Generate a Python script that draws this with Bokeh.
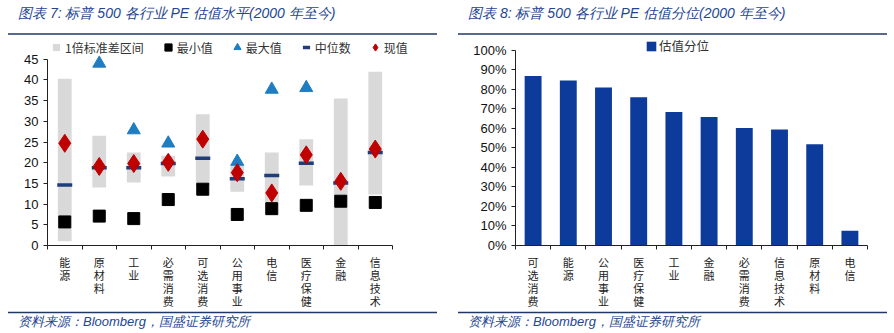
import math
from bokeh.plotting import figure
from bokeh.models import (Range1d, LinearAxis, FixedTicker,
                          Legend, LegendItem, Div, NumeralTickFormatter)
from bokeh.layouts import column, row
from bokeh.embed import file_html
from bokeh.resources import INLINE

nan = float("nan")

# ---------------- data ----------------
sectors = ["能源", "原材料", "工业", "必需消费", "可选消费", "公用事业", "电信", "医疗保健", "金融", "信息技术"]
band_low = [1.0, 14.0, 15.2, 16.7, 14.5, 13.0, 10.5, 14.5, 0.0, 12.3]
band_high = [40.3, 26.5, 22.5, 21.7, 31.7, 19.5, 22.5, 25.7, 35.5, 42.0]
pe_min = [5.7, 7.1, 6.5, 11.1, 13.6, 7.5, 8.9, 9.7, 10.7, 10.4]
pe_max = [nan, 44.0, 27.9, 24.7, nan, 20.3, 37.7, 38.1, nan, nan]
pe_median = [14.6, 18.8, 18.8, 19.8, 21.1, 16.1, 16.9, 19.9, 15.1, 22.5]
pe_now = [24.7, 19.1, 19.8, 20.1, 25.7, 17.6, 12.7, 21.9, 15.5, 23.3]
left_ticks = [0, 5, 10, 15, 20, 25, 30, 35, 40, 45]

rank_sectors = ["可选消费", "能源", "公用事业", "医疗保健", "工业", "金融", "必需消费", "信息技术", "原材料", "电信"]
rank_pct = [0.869, 0.845, 0.810, 0.760, 0.684, 0.658, 0.602, 0.595, 0.519, 0.075]
right_ticks = [0, 0.1, 0.2, 0.3, 0.4, 0.5, 0.6, 0.7, 0.8, 0.9, 1.0]

title_left = "图表 7: 标普 500 各行业 PE 估值水平(2000 年至今)"
title_right = "图表 8: 标普 500 各行业 PE 估值分位(2000 年至今)"
source_text = "资料来源：Bloomberg，国盛证券研究所"

# ---------------- styles ----------------
CJK = "Noto Sans CJK SC"
NUM = "Liberation Sans"
NAVY_LINE = "#1F3864"
TITLE_COL = "#24468F"
W = 447
TOP_H = 36
FIG_H = 275
FOOT_H = 22


def title_div(text, left):
    svg = (f'<svg xmlns="http://www.w3.org/2000/svg" width="{W}" height="{TOP_H}" style="display:block">'
           f'<line x1="{left}" y1="34" x2="{left + 429}" y2="34" stroke="{NAVY_LINE}" stroke-width="1.5"/>'
           f'<text x="{left + 10}" y="18" font-family="{CJK}" font-style="italic" font-size="14" '
           f'fill="{TITLE_COL}">{text}</text></svg>')
    return Div(text=svg, width=W, height=TOP_H, margin=0)


def foot_div(text, left):
    svg = (f'<svg xmlns="http://www.w3.org/2000/svg" width="{W}" height="{FOOT_H}" style="display:block">'
           f'<line x1="{left}" y1="1.5" x2="{left + 429}" y2="1.5" stroke="{NAVY_LINE}" stroke-width="1.5"/>'
           f'<text x="{left + 10}" y="15" font-family="{CJK}" font-style="italic" font-size="13" '
           f'fill="{TITLE_COL}">{text}</text></svg>')
    return Div(text=svg, width=W, height=FOOT_H, margin=0)


def positions(cats):
    return [i + 0.5 for i in range(len(cats))]


def style_common(p, cats):
    p.xgrid.visible = False
    p.ygrid.visible = False
    p.outline_line_color = None
    p.background_fill_color = "white"
    p.border_fill_color = "white"
    n = len(cats)
    pos = positions(cats)
    # one axis: labels at category centres, tick marks (minor) between categories
    ax = LinearAxis(ticker=FixedTicker(ticks=pos, minor_ticks=list(range(n + 1))), bounds=(0, n))
    ax.axis_line_color = "#222222"
    ax.major_tick_line_color = None
    ax.major_tick_out = 0
    ax.major_tick_in = 0
    ax.minor_tick_line_color = "#222222"
    ax.minor_tick_out = 4
    ax.minor_tick_in = 0
    ax.major_label_overrides = {x: "\n".join(c) for x, c in zip(pos, cats)}
    ax.major_label_text_font = CJK
    ax.major_label_text_font_size = "11px"
    ax.major_label_text_line_height = 0.82
    ax.major_label_text_color = "#222222"
    ax.major_label_standoff = 4
    p.add_layout(ax, "below")


def y_axis(p, ticks, bounds, fmt=None):
    ax = LinearAxis(ticker=FixedTicker(ticks=ticks), bounds=bounds)
    if fmt is not None:
        ax.formatter = fmt
    ax.major_label_text_font = NUM
    ax.major_label_text_font_size = "13px"
    ax.major_label_text_color = "#111111"
    ax.major_tick_out = 4
    ax.major_tick_in = 0
    ax.minor_tick_line_color = None
    ax.axis_line_color = "#222222"
    ax.major_tick_line_color = "#222222"
    ax.major_label_standoff = 5
    p.add_layout(ax, "left")


# ---------------- left figure ----------------
xs1 = positions(sectors)
p1 = figure(width=W, height=FIG_H, x_range=Range1d(0, len(sectors) * 390 / 345),
            y_range=Range1d(0, 50.5), output_backend="svg", toolbar_location=None,
            x_axis_location=None, y_axis_location=None,
            min_border_left=47, min_border_right=10, min_border_top=0, min_border_bottom=64,
            margin=0)
style_common(p1, sectors)
y_axis(p1, left_ticks, (0, 45))

r_band = p1.vbar(x=xs1, bottom=band_low, top=band_high, width=0.4,
                 fill_color="#D9D9D9", line_color=None)
r_min = p1.scatter(x=xs1, y=pe_min, marker="square", size=12,
                   fill_color="black", line_color="black")
r_max = p1.scatter(x=xs1, y=pe_max, marker="triangle", size=13,
                   fill_color="#1F7DC1", line_color="#1F7DC1")
r_med = p1.scatter(x=xs1, y=pe_median, marker="dash", size=15, line_width=3.5,
                   line_color="#1F3D7A")
r_now = p1.scatter(x=xs1, y=pe_now, marker="diamond", size=18,
                   fill_color="#C00000", line_color="#C00000")
# legend key for the band: a small grey swatch (size 0 on the plot itself)
r_band_key = p1.scatter(x=xs1, y=band_low, size=0, marker="square",
                        fill_color="#D9D9D9", line_color=None)

leg1 = Legend(items=[LegendItem(label="1倍标准差区间", renderers=[r_band_key]),
                     LegendItem(label="最小值", renderers=[r_min]),
                     LegendItem(label="最大值", renderers=[r_max]),
                     LegendItem(label="中位数", renderers=[r_med]),
                     LegendItem(label="现值", renderers=[r_now])],
              orientation="horizontal", location=(0, 189),
              label_text_font=CJK, label_text_font_size="12px", label_text_color="#333333",
              glyph_width=18, glyph_height=18, label_standoff=0, spacing=15,
              padding=0, margin=0, border_line_color=None, background_fill_alpha=0)
p1.add_layout(leg1, "center")

# ---------------- right figure ----------------
xs2 = positions(rank_sectors)
p2 = figure(width=W, height=FIG_H, x_range=Range1d(0, len(rank_sectors)),
            y_range=Range1d(0, 1.071), output_backend="svg", toolbar_location=None,
            x_axis_location=None, y_axis_location=None,
            min_border_left=68, min_border_right=27, min_border_top=0, min_border_bottom=65,
            margin=0)
style_common(p2, rank_sectors)
y_axis(p2, right_ticks, (0, 1), NumeralTickFormatter(format="0%"))

r_bar = p2.vbar(x=xs2, top=rank_pct, width=0.48, fill_color="#0D3B9C", line_color=None)
leg2 = Legend(items=[LegendItem(label="估值分位", renderers=[r_bar])],
              orientation="horizontal", location=(130, 190),
              label_text_font=CJK, label_text_font_size="12.5px", label_text_color="#333333",
              glyph_width=12, glyph_height=12, label_standoff=2,
              padding=0, margin=0, border_line_color=None, background_fill_alpha=0)
p2.add_layout(leg2, "center")

layout = column(
    row(title_div(title_left, 8), title_div(title_right, 11), margin=0, spacing=0),
    row(p1, p2, margin=0, spacing=0),
    row(foot_div(source_text, 8), foot_div(source_text, 11), margin=0, spacing=0),
    margin=0, spacing=0)

open("out.html", "w").write(file_html(layout, INLINE))
